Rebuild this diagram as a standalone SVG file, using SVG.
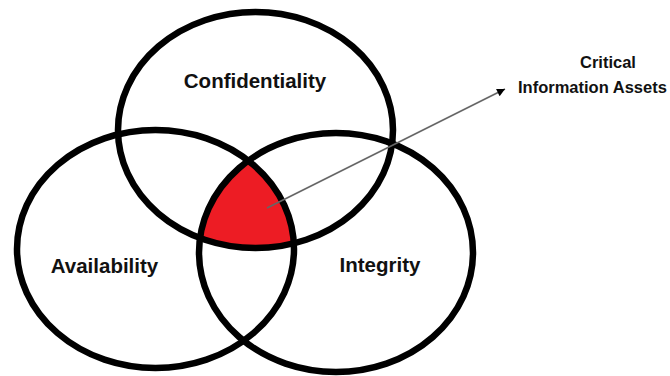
<svg xmlns="http://www.w3.org/2000/svg" width="670" height="376" viewBox="0 0 670 376">
  <style>
    .ring { fill: none; stroke: #000; stroke-width: 6.5; }
    .lbl { font-family: "Liberation Sans", Arial, sans-serif; font-weight: bold; font-size: 20.5px; fill: #111; text-anchor: middle; }
    .note { font-family: "Liberation Sans", Arial, sans-serif; font-weight: bold; font-size: 16.5px; fill: #111; }
    .conn { stroke: #666; stroke-width: 1.6; fill: none; }
  </style>
  <defs>
    <clipPath id="clipL"><ellipse cx="155.5" cy="249" rx="138.5" ry="119"/></clipPath>
    <clipPath id="clipR"><ellipse cx="336" cy="252.5" rx="137" ry="119.5"/></clipPath>
    <marker id="arrow" viewBox="0 0 10 10" refX="10" refY="5" markerWidth="11" markerHeight="8" markerUnits="userSpaceOnUse" orient="auto">
      <path d="M0,0 L10,5 L0,10 z" fill="#000"/>
    </marker>
  </defs>
  <rect width="670" height="376" fill="#fff"/>

  <g id="core">
    <g clip-path="url(#clipR)">
      <ellipse cx="255.5" cy="130" rx="137.5" ry="118" fill="#ED1C24" clip-path="url(#clipL)"/>
    </g>
  </g>

  <g id="confidentiality">
    <ellipse class="ring" cx="255.5" cy="130" rx="137.5" ry="118"/>
    <text class="lbl" x="255" y="88">Confidentiality</text>
  </g>
  <g id="availability">
    <ellipse class="ring" cx="155.5" cy="249" rx="138.5" ry="119"/>
    <text class="lbl" x="104.5" y="272.5">Availability</text>
  </g>
  <g id="integrity">
    <ellipse class="ring" cx="336" cy="252.5" rx="137" ry="119.5"/>
    <text class="lbl" x="380" y="272">Integrity</text>
  </g>

  <g id="connectors">
    <line class="conn" x1="267" y1="208" x2="505" y2="89" marker-end="url(#arrow)"/>
  </g>

  <g id="critical-assets">
    <text class="note" x="580" y="68">Critical</text>
    <text class="note" x="518" y="93">Information Assets</text>
  </g>
</svg>
